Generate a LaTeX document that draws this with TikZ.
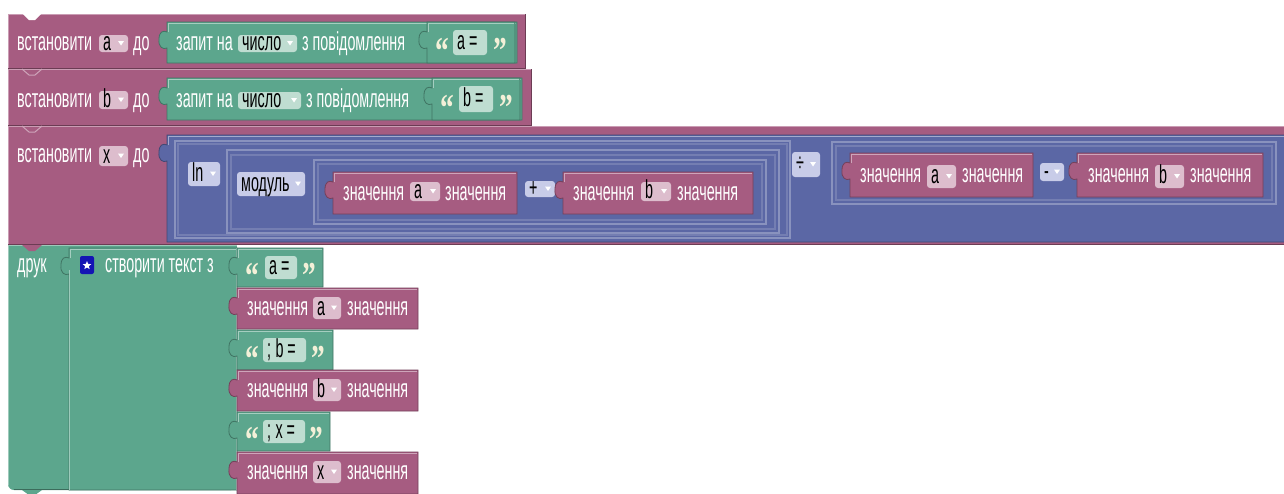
\documentclass[tikz,border=0pt]{standalone}
\usepackage{fontspec}
\newfontfamily\blkfont[FakeStretch=0.55]{Liberation Sans}
\newfontfamily\quotefont[FakeStretch=0.72]{Liberation Serif Bold}
\usetikzlibrary{shapes.geometric}

\definecolor{varc}{HTML}{A65C81}
\definecolor{txtc}{HTML}{5CA68D}
\definecolor{mathc}{HTML}{5B67A5}
\definecolor{varchip}{HTML}{DDBDCD}
\definecolor{txtchip}{HTML}{BFDDD1}
\definecolor{mathchip}{HTML}{C8CCE8}
\definecolor{qcol}{HTML}{F4F0D8}
\definecolor{iconc}{HTML}{1414B4}

\newcommand\blocksize{\fontsize{26}{26}\selectfont}

% statement block body: colour, x1, y1, x2, y2
\newcommand\stmtblk[5]{%
  \fill[#1] (#2,#3) rectangle (#4,#5);
  \draw[#1!60!white, line width=1pt] (#2+0.5,#5) -- (#2+0.5,#3+0.5) -- (#4,#3+0.5);
  \draw[#1!65!black, line width=1pt] (#2,#5-0.5) -- (#4-0.5,#5-0.5) -- (#4-0.5,#3);
}
% value block with its output tab on the left edge: colour, x1, y1, x2, y2
\newcommand\valblk[5]{%
  \filldraw[fill=#1, draw=#1!70!black, line width=0.8pt]
    (#2,#3) -- (#4,#3) -- (#4,#5) -- (#2,#5) -- (#2,#3+26)
    .. controls (#2-4,#3+28) and (#2-9,#3+25) .. (#2-8,#3+17)
    .. controls (#2-8,#3+10) and (#2-4,#3+8) .. (#2,#3+10) -- cycle;
  \draw[#1!55!white, line width=0.8pt] (#2+1,#3+10) -- (#2+1,#3+1) -- (#4-1,#3+1);
}
% outline of a nested slot or block of the same colour
\newcommand\frameblk[5]{\draw[#1, line width=1.1pt] (#2,#3) rectangle (#4,#5);}
% dropdown field: name, x1, y1, x2, y2, fill, text, arrow (1 or 0)
\newcommand\chip[8]{%
  \fill[#6, rounded corners=3pt] (#2,#3) rectangle (#4,#5);
  \node[chiplbl] (#1) at (#2+4,{(#3+#5)/2+7}) {#7};
  \ifnum#8=1
    \fill[white] (#4-10,{(#3+#5)/2-2.5}) -- (#4-4,{(#3+#5)/2-2.5}) -- (#4-7,{(#3+#5)/2+2}) -- cycle;
  \fi
}
% string literal contents: name prefix, x of opening quote, x of chip, x2 of chip, x of closing quote, y1, y2, text
\newcommand\strlit[8]{%
  \node[quot] (#1o) at (#2,{(#6+#7)/2+21}) {“};
  \chip{#1t}{#3}{#6+8}{#4}{#7-8}{txtchip}{#8}{0}
  \node[quot] (#1c) at (#5,{(#6+#7)/2+21}) {”};
}
% tab of the block above, reaching into the block below
\newcommand\nexttab[2]{\fill[#1] (22,#2) -- (29,#2+6) -- (35,#2+6) -- (42,#2) -- cycle;}

\begin{document}
\begin{tikzpicture}[x=1pt,y=-1pt,
  lbl/.style={anchor=base west, inner sep=0pt, text=white, font=\blkfont\blocksize},
  chiplbl/.style={lbl, text=black},
  quot/.style={anchor=base west, inner sep=0pt, text=qcol, font=\quotefont\fontsize{38}{38}\selectfont},
  slotline/.style={mathc!72!white},
  blkline/.style={mathc!85!white}]
\useasboundingbox (0,0) rectangle (1284,493);
\fill[white] (0,0) rectangle (1284,493);
\clip (0,0) rectangle (1284,493);

% ---------- set a to ask number ----------
\stmtblk{varc}{8}{14}{526}{69}
\fill[white] (22,13) -- (29,20) -- (35,20) -- (42,13) -- cycle;
\node[lbl] (set1) at (17,50) {встановити};
\chip{var1}{99}{35}{128}{52}{varchip}{a}{1}
\node[lbl] (to1) at (133,50) {до};
\valblk{txtc}{167}{22}{517}{63}
\node[lbl] (ask1) at (176,50) {запит на};
\chip{num1}{238}{35}{297}{52}{txtchip}{число}{1}
\node[lbl] (msg1) at (302,50) {з повідомлення};
\valblk{txtc}{427}{22}{515}{63}
\strlit{s1}{435}{453}{487}{493}{22}{63}{a =}

% ---------- set b to ask number ----------
\stmtblk{varc}{8}{69}{532}{126}
\draw[varc!55!white, line width=1pt] (22,69) -- (29,75) -- (35,75) -- (42,69);
\node[lbl] (set2) at (17,107) {встановити};
\chip{var2}{99}{91}{128}{109}{varchip}{b}{1}
\node[lbl] (to2) at (133,107) {до};
\valblk{txtc}{167}{78}{522}{120}
\node[lbl] (ask2) at (176,107) {запит на};
\chip{num2}{238}{92}{301}{109}{txtchip}{число}{1}
\node[lbl] (msg2) at (306,107) {з повідомлення};
\valblk{txtc}{432}{78}{520}{120}
\strlit{s2}{440}{459}{493}{499}{78}{120}{b =}

% ---------- set x to ln|a+b| / (a-b) ----------
\stmtblk{varc}{8}{126}{1300}{245}
\draw[varc!55!white, line width=1pt] (22,126) -- (29,132) -- (35,132) -- (42,126);
\node[lbl] (set3) at (17,162) {встановити};
\chip{var3}{99}{146}{128}{166}{varchip}{x}{1}
\node[lbl] (to3) at (133,162) {до};
\valblk{mathc}{167}{135}{1300}{242}
% left operand: ln block
\frameblk{slotline}{175}{141}{790}{238}
\frameblk{blkline}{178}{144}{787}{235}
\chip{ln}{188}{162}{220}{186}{mathchip}{ln}{1}
% module block inside ln
\frameblk{slotline}{227}{150}{779}{233}
\frameblk{blkline}{231}{155}{775}{229}
\chip{abs}{237}{172}{305}{196}{mathchip}{модуль}{1}
% sum inside module
\frameblk{slotline}{314}{160}{766}{224}
\frameblk{blkline}{318}{164}{762}{220}
\valblk{varc}{333}{172}{517}{214}
\node[lbl] (va1) at (343,200) {значення};
\chip{va1v}{410}{182}{440}{201}{varchip}{a}{1}
\node[lbl] (va1e) at (445,200) {значення};
\chip{plus}{525}{181}{555}{197}{mathchip}{+}{1}
\valblk{varc}{563}{172}{753}{214}
\node[lbl] (vb1) at (573,200) {значення};
\chip{vb1v}{641}{182}{671}{201}{varchip}{b}{1}
\node[lbl] (vb1e) at (677,200) {значення};
% division operator
\chip{div}{792}{152}{820}{177}{mathchip}{÷}{1}
% right operand: difference
\frameblk{slotline}{832}{142}{1276}{204}
\frameblk{blkline}{836}{146}{1272}{200}
\valblk{varc}{850}{153}{1033}{197}
\node[lbl] (va2) at (860,182) {значення};
\chip{va2v}{927}{165}{956}{188}{varchip}{a}{1}
\node[lbl] (va2e) at (962,182) {значення};
\chip{minus}{1040}{163}{1064}{181}{mathchip}{-}{1}
\valblk{varc}{1077}{153}{1263}{197}
\node[lbl] (vb2) at (1088,182) {значення};
\chip{vb2v}{1155}{165}{1184}{188}{varchip}{b}{1}
\node[lbl] (vb2e) at (1190,182) {значення};

% ---------- print(join(...)) ----------
\fill[txtc, rounded corners=6pt] (8,245) rectangle (237,490);
\fill[txtc] (8,245) rectangle (237,470);
\draw[txtc!60!white, line width=1pt] (8.5,485) -- (8.5,245.5) -- (237,245.5);
\draw[txtc!65!black, line width=1pt] (14,489.5) -- (237,489.5);
\nexttab{varc}{245}
\fill[txtc] (22,490) -- (29,495) -- (35,495) -- (42,490) -- cycle;
\node[lbl] (print) at (17,272) {друк};
\valblk{txtc}{69}{248}{237}{490}
\draw[txtc!60!white, line width=1pt] (69.5,270) -- (69.5,490);
\fill[iconc, rounded corners=2pt] (80,256) rectangle (94,274);
\node[star, star points=5, star point ratio=2.3, fill=white, inner sep=0pt, minimum size=9pt] (icon) at (87,265.5) {};
\node[lbl] (join) at (105,272) {створити текст з};
\draw[txtc!60!white, line width=1pt] (236.5,248) -- (236.5,490);
% items
\valblk{txtc}{237}{248}{323}{287}
\strlit{p1}{245}{265}{297}{302}{248}{287}{a =}
\valblk{varc}{237}{288}{418}{329}
\node[lbl] (pa) at (247,315) {значення};
\chip{pav}{313}{297}{341}{319}{varchip}{a}{1}
\node[lbl] (pae) at (347,315) {значення};
\valblk{txtc}{237}{330}{333}{370}
\strlit{p2}{245}{263}{306}{311}{330}{370}{;\,b =}
\valblk{varc}{237}{370}{418}{411}
\node[lbl] (pb) at (247,397) {значення};
\chip{pbv}{313}{379}{341}{401}{varchip}{b}{1}
\node[lbl] (pbe) at (347,397) {значення};
\valblk{txtc}{237}{412}{330}{451}
\strlit{p3}{245}{263}{305}{309}{412}{451}{;\,x =}
\valblk{varc}{237}{452}{418}{494}
\node[lbl] (px) at (247,479) {значення};
\chip{pxv}{313}{461}{341}{483}{varchip}{x}{1}
\node[lbl] (pxe) at (347,479) {значення};
\end{tikzpicture}
\end{document}
